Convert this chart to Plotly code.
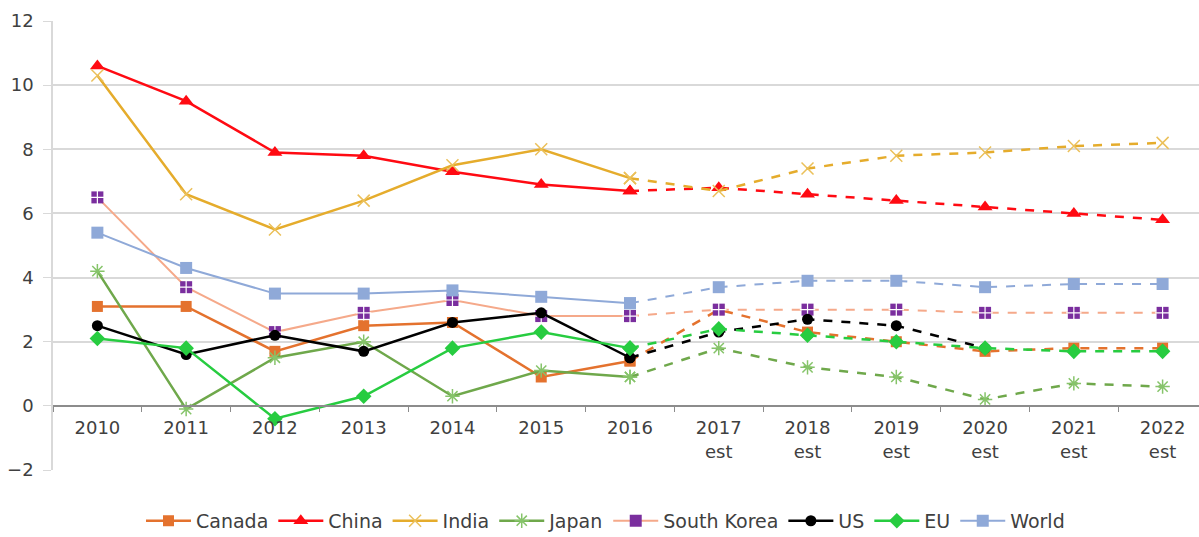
import plotly.graph_objects as go

years = ["2010", "2011", "2012", "2013", "2014", "2015", "2016",
         "2017<br>est", "2018<br>est", "2019<br>est", "2020<br>est", "2021<br>est", "2022<br>est"]

canada = [3.1, 3.1, 1.7, 2.5, 2.6, 0.9, 1.4, 3.0, 2.3, 2.0, 1.7, 1.8, 1.8]
china = [10.6, 9.5, 7.9, 7.8, 7.3, 6.9, 6.7, 6.8, 6.6, 6.4, 6.2, 6.0, 5.8]
india = [10.3, 6.6, 5.5, 6.4, 7.5, 8.0, 7.1, 6.7, 7.4, 7.8, 7.9, 8.1, 8.2]
japan = [4.2, -0.1, 1.5, 2.0, 0.3, 1.1, 0.9, 1.8, 1.2, 0.9, 0.2, 0.7, 0.6]
south_korea = [6.5, 3.7, 2.3, 2.9, 3.3, 2.8, 2.8, 3.0, 3.0, 3.0, 2.9, 2.9, 2.9]
us = [2.5, 1.6, 2.2, 1.7, 2.6, 2.9, 1.5, 2.3, 2.7, 2.5, 1.8, None, None]
eu = [2.1, 1.8, -0.4, 0.3, 1.8, 2.3, 1.8, 2.4, 2.2, 2.0, 1.8, 1.7, 1.7]
world = [5.4, 4.3, 3.5, 3.5, 3.6, 3.4, 3.2, 3.7, 3.9, 3.9, 3.7, 3.8, 3.8]

series = [
    ("Canada", canada, "#E4722E", "#E4722E", "square", 11, 2.5, None),
    ("China", china, "#FF0A12", "#FF0A12", "triangle-up", 13, 2.5, None),
    ("India", india, "#E5AC2C", "#EBC05A", "x-thin", 12, 2.5, None),
    ("Japan", japan, "#6FA84B", "#86C46A", "asterisk-open", 12, 2.5, None),
    ("South Korea", south_korea, "#F5A98A", "#7A2E9E", "square", 12, 2, "white"),
    ("US", us, "#000000", "#000000", "circle", 11, 2.5, None),
    ("EU", eu, "#27CC40", "#27CC40", "diamond", 12, 2.5, None),
    ("World", world, "#8FA9D8", "#8FA9D8", "square", 12, 2, None),
]

split = 6
fig = go.Figure()
for name, vals, lc, mc, sym, ms, lw, mline in series:
    if "open" in sym or "thin" in sym:
        mlw = 1.5
    else:
        mlw = 0
    marker = dict(symbol=sym, size=ms, color=mc,
                  line=dict(color=mc, width=mlw))
    fig.add_trace(go.Scatter(
        x=years[:split + 1], y=vals[:split + 1], name=name, mode="lines+markers",
        line=dict(color=lc, width=lw), marker=marker, legendgroup=name, showlegend=True,
    ))
    fig.add_trace(go.Scatter(
        x=years[split:], y=vals[split:], name=name, mode="lines+markers",
        line=dict(color=lc, width=lw, dash="dash"), marker=marker, legendgroup=name,
        showlegend=False,
    ))
    if mline:
        fig.add_trace(go.Scatter(
            x=years, y=vals, mode="markers", hoverinfo="skip", showlegend=False,
            legendgroup=name,
            marker=dict(symbol="cross-thin", size=ms - 1, color=mline,
                        line=dict(color=mline, width=1.2)),
        ))

fig.update_layout(
    width=1199, height=537,
    margin=dict(l=53, r=0, t=21, b=67, autoexpand=False),
    paper_bgcolor="white", plot_bgcolor="white",
    font=dict(family="DejaVu Sans, sans-serif", size=18, color="#404040"),
    legend=dict(orientation="h", x=0.505, xref="container", xanchor="center",
                y=0.03, yref="container", yanchor="middle",
                font=dict(size=19, color="#404040"), itemwidth=45, tracegroupgap=0),
    xaxis=dict(
        type="category", categoryorder="array", categoryarray=years,
        range=[-0.5, 12.41], anchor="free", position=2 / 14,
        showline=True, linecolor="#8C8C8C", linewidth=1.5,
        ticks="outside", tickson="boundaries", ticklen=5, tickcolor="#8C8C8C",
        ticklabelstandoff=6,
        showgrid=False, tickfont=dict(size=18, color="#404040"),
    ),
    yaxis=dict(
        range=[-2, 12], dtick=2, showgrid=True, gridcolor="#D9D9D9", gridwidth=1.5,
        zeroline=False, showline=True, linecolor="#D9D9D9", linewidth=1.5,
        ticks="outside", ticklen=8, tickcolor="#D9D9D9",
        ticklabelstandoff=6,
        tickfont=dict(size=18, color="#404040"),
    ),
)

fig.write_html("out.html")
